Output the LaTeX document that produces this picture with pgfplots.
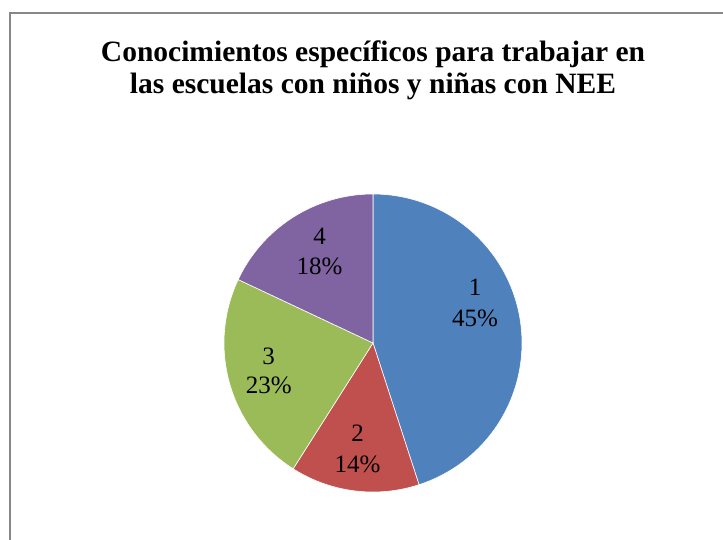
\documentclass[border=0pt]{standalone}
\usepackage{fontspec}
\setmainfont{Liberation Serif}
\usepackage{pgfplots}
\pgfplotsset{compat=1.18}
\usepackage{pgfplotstable}

\definecolor{pieblue}{HTML}{4F81BD}
\definecolor{piered}{HTML}{C0504D}
\definecolor{piegreen}{HTML}{9BBB59}
\definecolor{piepurple}{HTML}{8064A2}
\definecolor{frame}{HTML}{878787}

% share of each slice, in percent
\pgfplotstableread{
slice pct
1 45
2 14
3 23
4 18
}\piedata

\begin{document}
\begin{tikzpicture}[x=1pt,y=1pt]
    \useasboundingbox (0,0) rectangle (723,540);
    \draw[frame, line width=2pt] (10,0) -- (10,527) -- (723,527);

    \begin{scope}[every node/.style={font=\fontsize{29.5}{32}\selectfont\bfseries, anchor=base, inner sep=0pt}]
        \node at (373,478) {Conocimientos específicos para trabajar en};
        \node at (373,446) {las escuelas con niños y niñas con NEE};
    \end{scope}

    % slice angles: start at 12 o'clock, clockwise
    \pgfplotstablegetelem{0}{pct}\of\piedata \pgfmathsetmacro{\aA}{90-3.6*\pgfplotsretval}
    \pgfplotstablegetelem{1}{pct}\of\piedata \pgfmathsetmacro{\aB}{\aA-3.6*\pgfplotsretval}
    \pgfplotstablegetelem{2}{pct}\of\piedata \pgfmathsetmacro{\aC}{\aB-3.6*\pgfplotsretval}
    \pgfplotstablegetelem{3}{pct}\of\piedata \pgfmathsetmacro{\aD}{\aC-3.6*\pgfplotsretval}

    \coordinate (piecenter) at (373,197);
    \begin{axis}[
        at={(piecenter)}, anchor=center,
        scale only axis, width=298pt, height=298pt,
        xmin=-1, xmax=1, ymin=-1, ymax=1,
        hide axis, clip=false,
        every axis plot/.append style={draw=white, line width=0.6pt, samples=90, data cs=polar},
    ]
        \addplot[fill=pieblue, domain=\aA:90] ({x},{1}) -- (axis cs:0,0) -- cycle;
        \addplot[fill=piered, domain=\aB:\aA] ({x},{1}) -- (axis cs:0,0) -- cycle;
        \addplot[fill=piegreen, domain=\aC:\aB] ({x},{1}) -- (axis cs:0,0) -- cycle;
        \addplot[fill=piepurple, domain=\aD:\aC] ({x},{1}) -- (axis cs:0,0) -- cycle;

        \begin{scope}[every node/.style={font=\fontsize{25}{30}\selectfont, anchor=base, inner sep=0pt}]
            \node at (axis cs:0.685,0.322) {1};
            \node at (axis cs:0.685,0.114) {45\%};
            \node at (axis cs:-0.103,-0.664) {2};
            \node at (axis cs:-0.103,-0.866) {14\%};
            \node at (axis cs:-0.700,-0.141) {3};
            \node at (axis cs:-0.700,-0.342) {23\%};
            \node at (axis cs:-0.358,0.664) {4};
            \node at (axis cs:-0.358,0.463) {18\%};
        \end{scope}
    \end{axis}
\end{tikzpicture}
\end{document}
